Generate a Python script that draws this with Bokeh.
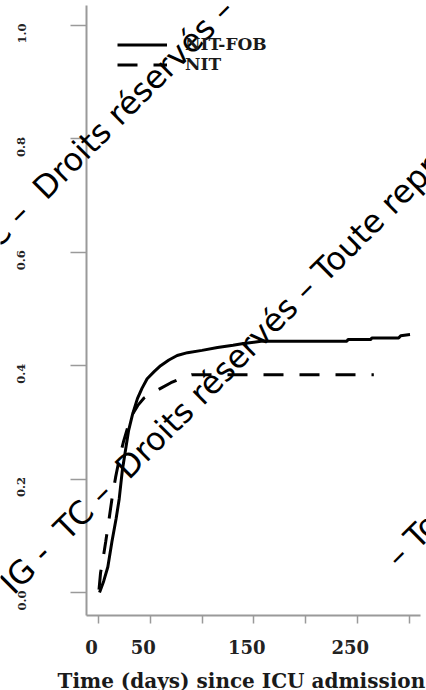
import math
from bokeh.plotting import figure
from bokeh.models import (Range1d, FixedTicker, Legend, LegendItem, Label,
                          LabelSet, ColumnDataSource)
from bokeh.core.properties import value
from bokeh.embed import file_html
from bokeh.resources import INLINE

# ---------------- data ----------------
series_names = ["NIT-FOB", "NIT"]

nit_fob_days = [1, 5, 9, 13, 17, 20, 23, 26, 29, 33, 37.6, 42, 47, 54, 60, 68,
                76, 86, 100, 115, 130, 140, 157, 240, 241, 263, 264, 290, 292, 301]
nit_fob_prob = [0.0, 0.02, 0.045, 0.09, 0.13, 0.165, 0.215, 0.25, 0.285, 0.315,
                0.342, 0.36, 0.377, 0.39, 0.40, 0.41, 0.418, 0.423, 0.427, 0.432,
                0.436, 0.439, 0.443, 0.443, 0.446, 0.446, 0.449, 0.449, 0.453, 0.455]

nit_days = [0.5, 2, 4, 7, 10, 13, 16.5, 20, 24, 28, 33, 38, 44, 52, 60, 70, 80, 90, 266]
nit_prob = [0.005, 0.035, 0.055, 0.09, 0.127, 0.165, 0.203, 0.235, 0.265, 0.29,
            0.315, 0.33, 0.343, 0.352, 0.36, 0.37, 0.378, 0.384, 0.384]

x_ticks = [0, 50, 100, 150, 200, 250, 300]
x_tick_labels = ["0", "50", "", "150", "", "250", ""]
y_ticks = [0.0, 0.2, 0.4, 0.6, 0.8, 1.0]
y_tick_labels = ["0.0", "0.2", "0.4", "0.6", "0.8", "1.0"]
x_title = "Time (days) since ICU admission"

wm_left = "IG -\u00a0\u00a0TC –\u00a0\u00a0"
wm_right = "Droits réservés – Toute reproduction"
wm_left_top = "TC –\u00a0\u00a0"
wm_tail = "– Toute reproduction"

# ---------------- layout (pixel <-> data helpers) ----------------
W, H = 426, 690
PX0, KX = 98.0, 1.035     # pixel of day 0, pixels per day
PY0, KY = 592.0, 567.0    # pixel of probability 0, pixels per unit


def sx(px):
    return (px - PX0) / KX


def sy(py):
    return (PY0 - py) / KY


p = figure(width=W, height=H, x_range=Range1d(sx(0), sx(W)),
           y_range=Range1d(sy(H), sy(0)),
           output_backend="svg", toolbar_location=None,
           min_border_left=0, min_border_right=0,
           min_border_top=0, min_border_bottom=0)
p.outline_line_color = None
p.grid.visible = False
p.background_fill_color = "white"

axis_grey = "#9a9a9a"
for ax in (p.xaxis[0], p.yaxis[0]):
    ax.axis_line_color = axis_grey
    ax.axis_line_width = 2
    ax.major_tick_line_color = axis_grey
    ax.major_tick_line_width = 1.5
    ax.major_tick_in = 0
    ax.minor_tick_in = 0
    ax.minor_tick_out = 0
    ax.major_label_text_color = None

p.xaxis.ticker = FixedTicker(ticks=x_ticks)
p.xaxis.major_tick_out = 8
p.xaxis.major_label_overrides = {t: "" for t in x_ticks}
p.xaxis.fixed_location = sy(615)
p.xaxis.bounds = (sx(86), sx(420))

p.yaxis.ticker = FixedTicker(ticks=y_ticks)
p.yaxis.major_tick_out = 16
p.yaxis.major_label_overrides = {t: "" for t in y_ticks}
p.yaxis.fixed_location = sx(86)
p.yaxis.bounds = (sy(615), sy(5))

# ---------------- curves ----------------
r1 = p.line(nit_fob_days, nit_fob_prob, line_color="black", line_width=3)
r2 = p.line(nit_days, nit_prob, line_color="black", line_width=3, line_dash="20 16")

leg_style = dict(padding=0, margin=0, spacing=0, glyph_width=50, glyph_height=19,
                 label_height=19, label_standoff=18, border_line_color=None,
                 background_fill_alpha=0, label_text_font="DejaVu Serif",
                 label_text_font_style="bold", label_text_font_size="17px",
                 label_text_color="#1a1a1a")
p.add_layout(Legend(items=[LegendItem(label=series_names[0], renderers=[r1])],
                    location=(117, H - 54), **leg_style))
p.add_layout(Legend(items=[LegendItem(label=series_names[1], renderers=[r2])],
                    location=(117, H - 74), **leg_style))

# ---------------- tick labels ----------------
ysrc = ColumnDataSource(dict(y=y_ticks, text=y_tick_labels))
p.add_layout(LabelSet(x=sx(21), y="y", text="text", source=ysrc, angle=math.pi / 2,
                      text_align="center", text_baseline="middle", y_offset=-8,
                      text_font=value("DejaVu Serif"), text_font_style="bold",
                      text_font_size="11.5px", text_color="#222222"))

xl = [(t, s) for t, s in zip(x_ticks, x_tick_labels) if s]
xsrc = ColumnDataSource(dict(x=[a for a, _ in xl], text=[b for _, b in xl]))
p.add_layout(LabelSet(x="x", y=sy(646), text="text", source=xsrc,
                      text_align="center", text_baseline="middle", x_offset=-7,
                      text_font=value("DejaVu Serif"), text_font_style="bold",
                      text_font_size="18px", text_color="#222222"))

p.add_layout(Label(x=sx(57), y=sy(680), text=x_title, text_align="left",
                   text_baseline="middle", text_font="DejaVu Serif",
                   text_font_style="bold", text_font_size="20px",
                   text_color="#1a1a1a"))

# ---------------- watermark ----------------
wm = dict(angle=math.pi / 4, text_font="DejaVu Sans", text_font_size="32px",
          text_color="black", text_baseline="alphabetic")
A = (120.5, 472.5)   # start of "Droits", main diagonal
B = (38.0, 193.0)    # start of "Droits", upper diagonal
for (ax_, ay_) in [A, B]:
    p.add_layout(Label(x=sx(ax_), y=sy(ay_), text=wm_right, text_align="left", **wm))
p.add_layout(Label(x=sx(A[0]), y=sy(A[1]), text=wm_left, text_align="right", **wm))
p.add_layout(Label(x=sx(B[0]), y=sy(B[1]), text=wm_left_top, text_align="right", **wm))
p.add_layout(Label(x=sx(391.0), y=sy(561.0), text=wm_tail, text_align="left", **wm))

open("out.html", "w").write(file_html(p, INLINE))
